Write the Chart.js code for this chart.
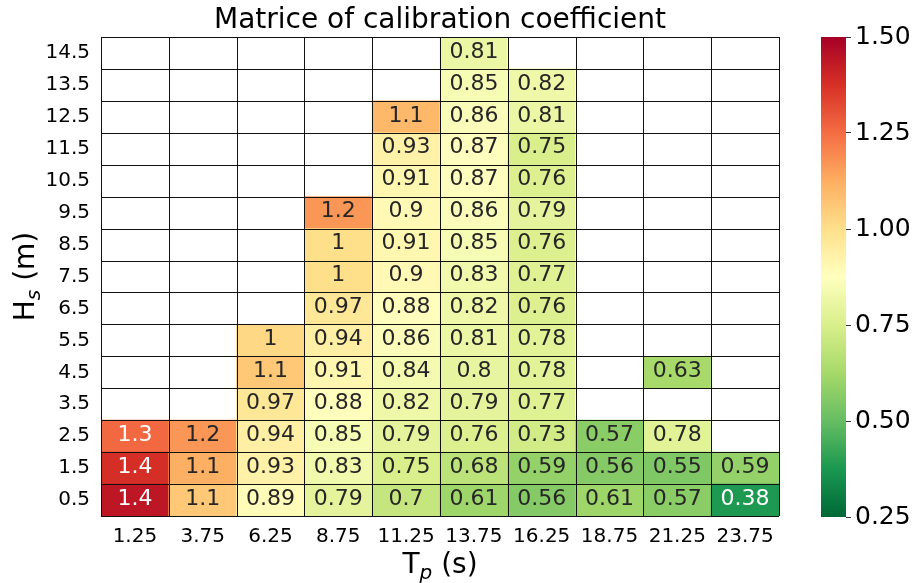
<!DOCTYPE html>
<html>
<head>
<meta charset="utf-8">
<script src="https://cdn.jsdelivr.net/npm/chart.js@4.4.0/dist/chart.umd.min.js"></script>
<style>
  html, body { margin: 0; padding: 0; background: #fff; }
  #wrap { position: relative; width: 915px; height: 583px; }
  #heat { position: absolute; left: 0; top: 0; }
  #cbar { position: absolute; left: 805px; top: 0; }
</style>
</head>
<body>
<div id="wrap">
  <canvas id="heat" width="805" height="583"></canvas>
  <canvas id="cbar" width="110" height="583"></canvas>
</div>
<script>
// --- data ---
const tpLabels = ['1.25', '3.75', '6.25', '8.75', '11.25', '13.75', '16.25', '18.75', '21.25', '23.75'];
const hsLabels = [0.5, 1.5, 2.5, 3.5, 4.5, 5.5, 6.5, 7.5, 8.5, 9.5, 10.5, 11.5, 12.5, 13.5, 14.5];

// one row per Hs, from 0.5 (bottom) up to 14.5 (top); null = empty cell
const coefRows = [
  [1.44, 1.06, 0.89, 0.79, 0.70, 0.61, 0.56, 0.61, 0.57, 0.38],   // 0.5
  [1.38, 1.12, 0.93, 0.83, 0.75, 0.68, 0.59, 0.56, 0.55, 0.59],   // 1.5
  [1.26, 1.17, 0.94, 0.85, 0.79, 0.76, 0.73, 0.57, 0.78, null],   // 2.5
  [null, null, 0.97, 0.88, 0.82, 0.79, 0.77, null, null, null],   // 3.5
  [null, null, 1.06, 0.91, 0.84, 0.80, 0.78, null, 0.63, null],   // 4.5
  [null, null, 1.02, 0.94, 0.86, 0.81, 0.78, null, null, null],   // 5.5
  [null, null, null, 0.97, 0.88, 0.82, 0.76, null, null, null],   // 6.5
  [null, null, null, 1.00, 0.90, 0.83, 0.77, null, null, null],   // 7.5
  [null, null, null, 1.00, 0.91, 0.85, 0.76, null, null, null],   // 8.5
  [null, null, null, 1.17, 0.90, 0.86, 0.79, null, null, null],   // 9.5
  [null, null, null, null, 0.91, 0.87, 0.76, null, null, null],   // 10.5
  [null, null, null, null, 0.93, 0.87, 0.75, null, null, null],   // 11.5
  [null, null, null, null, 1.10, 0.86, 0.81, null, null, null],   // 12.5
  [null, null, null, null, null, 0.85, 0.82, null, null, null],   // 13.5
  [null, null, null, null, null, 0.81, null, null, null, null]    // 14.5
];

const cbarMin = 0.25;
const cbarMax = 1.5;
const cbarTicks = [0.25, 0.5, 0.75, 1.0, 1.25, 1.5];

// RdYlGn reversed (low = green, high = red)
const palette = ['#006837', '#1a9850', '#66bd63', '#a6d96a', '#d9ef8b', '#ffffbf',
                 '#fee08b', '#fdae61', '#f46d43', '#d73027', '#a50026'];

Chart.defaults.font.family = '"DejaVu Sans", sans-serif';
Chart.defaults.color = '#000';

function hexToRgb(h) {
  return [parseInt(h.slice(1, 3), 16), parseInt(h.slice(3, 5), 16), parseInt(h.slice(5, 7), 16)];
}

function rgbFor(v) {
  let t = (v - cbarMin) / (cbarMax - cbarMin);
  t = Math.max(0, Math.min(1, t));
  const pos = t * (palette.length - 1);
  const i = Math.min(Math.floor(pos), palette.length - 2);
  const f = pos - i;
  const a = hexToRgb(palette[i]), b = hexToRgb(palette[i + 1]);
  return a.map((c, k) => Math.round(c + (b[k] - c) * f));
}

function colorFor(v) {
  if (v == null) return '#ffffff';
  const c = rgbFor(v);
  return `rgb(${c[0]}, ${c[1]}, ${c[2]})`;
}

// same rule as seaborn: dark text on light cells, white on dark ones
function textColorFor(v) {
  const lin = rgbFor(v).map(c => {
    c = c / 255;
    return c <= 0.03928 ? c / 12.92 : Math.pow((c + 0.055) / 1.055, 2.4);
  });
  const lum = 0.2126 * lin[0] + 0.7152 * lin[1] + 0.0722 * lin[2];
  return lum > 0.408 ? '#262626' : '#ffffff';
}

function fmt(v) {
  return String(Number(v.toPrecision(2)));
}

// --- heatmap cells: one floating-bar dataset per Hs row ---
const datasets = coefRows.map((row, r) => ({
  data: tpLabels.map(() => [hsLabels[r] - 0.5, hsLabels[r] + 0.5]),
  values: row,
  backgroundColor: row.map(colorFor),
  borderWidth: 0,
  borderSkipped: false,
  grouped: false,
  barPercentage: 1,
  categoryPercentage: 1
}));

const cellLabels = {
  id: 'cellLabels',
  afterDatasetsDraw(chart) {
    const ctx = chart.ctx;
    const a = chart.chartArea;
    ctx.save();

    // black cell edges, snapped to whole pixels
    ctx.strokeStyle = '#111';
    ctx.lineWidth = 1;
    ctx.beginPath();
    const xs = chart.scales.x, ys = chart.scales.y;
    for (let i = 0; i <= tpLabels.length; i++) {
      const px = Math.round(xs.getPixelForValue(i - 0.5)) + 0.5;
      ctx.moveTo(px, a.top);
      ctx.lineTo(px, a.bottom);
    }
    for (let j = 0; j <= hsLabels.length; j++) {
      const py = Math.round(ys.getPixelForValue(j)) + 0.5;
      ctx.moveTo(a.left, py);
      ctx.lineTo(a.right, py);
    }
    ctx.stroke();

    ctx.font = '22px "DejaVu Sans"';
    ctx.textAlign = 'center';
    ctx.textBaseline = 'middle';
    chart.data.datasets.forEach((ds, i) => {
      chart.getDatasetMeta(i).data.forEach((bar, c) => {
        const v = ds.values[c];
        if (v == null) return;
        ctx.fillStyle = textColorFor(v);
        ctx.fillText(fmt(v), bar.x, (bar.y + bar.base) / 2 - 1);
      });
    });
    ctx.restore();
  }
};

// title + axis titles with subscripts
function drawSubLabel(ctx, main, sub, rest, cx, baseline) {
  const big = '28px "DejaVu Sans"';
  const small = 'italic 20px "DejaVu Sans"';
  ctx.font = big;
  const w1 = ctx.measureText(main).width;
  const w3 = ctx.measureText(rest).width;
  ctx.font = small;
  const w2 = ctx.measureText(sub).width;
  let x = cx - (w1 + w2 + w3) / 2;
  ctx.textAlign = 'left';
  ctx.textBaseline = 'alphabetic';
  ctx.font = big;
  ctx.fillText(main, x, baseline);
  x += w1;
  ctx.font = small;
  ctx.fillText(sub, x, baseline + 6);
  x += w2;
  ctx.font = big;
  ctx.fillText(rest, x, baseline);
}

const titles = {
  id: 'titles',
  afterDraw(chart) {
    const ctx = chart.ctx;
    const a = chart.chartArea;
    const cx = (a.left + a.right) / 2;
    const cy = (a.top + a.bottom) / 2;
    ctx.save();
    ctx.fillStyle = '#000';
    ctx.font = '28px "DejaVu Sans"';
    ctx.textAlign = 'center';
    ctx.textBaseline = 'alphabetic';
    ctx.fillText('Matrice of calibration coefficient', cx, 28);

    drawSubLabel(ctx, 'T', 'p', ' (s)', cx, 573);

    ctx.translate(34, cy);
    ctx.rotate(-Math.PI / 2);
    drawSubLabel(ctx, 'H', 's', ' (m)', 0, 0);
    ctx.restore();
  }
};

new Chart(document.getElementById('heat'), {
  type: 'bar',
  data: { labels: tpLabels, datasets: datasets },
  options: {
    responsive: false,
    animation: false,
    layout: { padding: { left: 41, right: 26, top: 37, bottom: 27 } },
    plugins: { legend: { display: false }, tooltip: { enabled: false } },
    scales: {
      x: {
        offset: true,
        grid: { display: false, drawTicks: false },
        border: { display: false },
        ticks: { font: { size: 20 }, padding: 9, maxRotation: 0, autoSkip: false },
        afterFit: s => { s.height = 40; }
      },
      y: {
        type: 'linear',
        min: 0,
        max: 15,
        afterBuildTicks: s => { s.ticks = hsLabels.map(v => ({ value: v })); },
        grid: { display: false, drawTicks: false },
        border: { display: false },
        ticks: { font: { size: 20 }, padding: 11, callback: v => String(v) },
        afterFit: s => { s.width = 60; }
      }
    }
  },
  plugins: [cellLabels, titles]
});

// --- colour bar ---
function cbarGradient(context) {
  const chart = context.chart;
  const area = chart.chartArea;
  if (!area) return null;
  const g = chart.ctx.createLinearGradient(0, area.bottom, 0, area.top);
  palette.forEach((c, i) => g.addColorStop(i / (palette.length - 1), c));
  return g;
}

new Chart(document.getElementById('cbar'), {
  type: 'bar',
  data: {
    labels: [''],
    datasets: [{
      data: [[cbarMin, cbarMax]],
      backgroundColor: cbarGradient,
      borderWidth: 0,
      barPercentage: 1,
      categoryPercentage: 1
    }]
  },
  options: {
    responsive: false,
    animation: false,
    layout: { padding: { left: 16, right: 0, top: 37, bottom: 66 } },
    plugins: { legend: { display: false }, tooltip: { enabled: false } },
    scales: {
      x: { display: false },
      y: {
        position: 'right',
        min: cbarMin,
        max: cbarMax,
        afterBuildTicks: s => { s.ticks = cbarTicks.map(v => ({ value: v })); },
        grid: { drawOnChartArea: false, drawTicks: true, tickLength: 5, color: '#333' },
        border: { display: false },
        ticks: { font: { size: 25 }, padding: 4, callback: v => v.toFixed(2) },
        afterFit: s => { s.width = 69; }
      }
    }
  }
});
</script>
</body>
</html>
